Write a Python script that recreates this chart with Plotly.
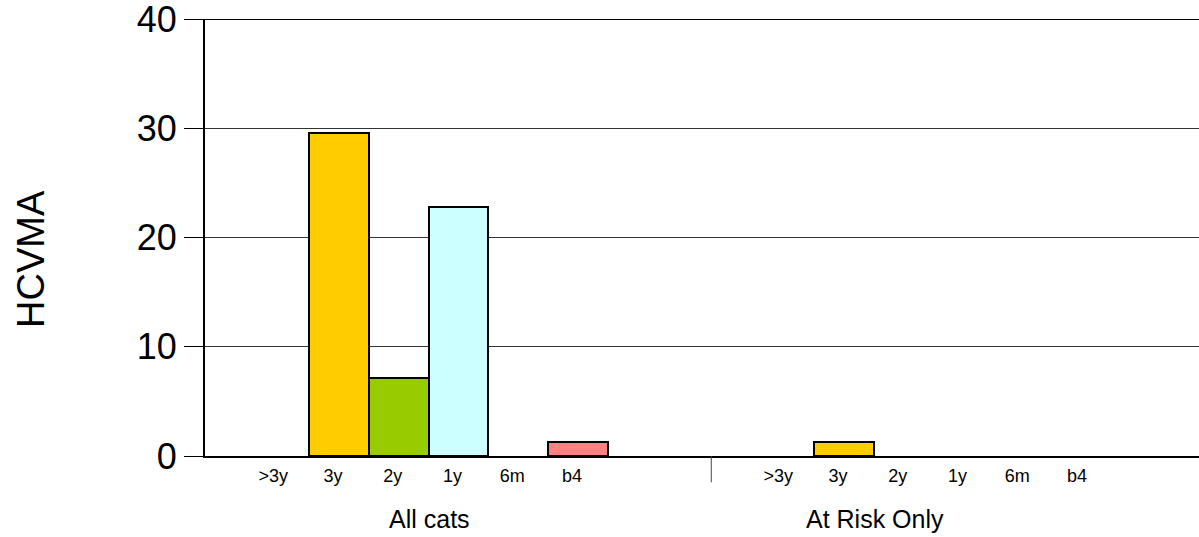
import plotly.graph_objects as go

# ---- data ----
categories = [">3y", "3y", "2y", "1y", "6m", "b4"]
groups = ["All cats", "At Risk Only"]
all_cats = [0, 29.6, 7.1, 22.8, 0, 1.3]
at_risk = [0, 1.3, 0, 0, 0, 0]
cat_colors = ["#FFFFFF", "#FFCC00", "#99CC00", "#CCFFFF", "#FFFFFF", "#FF8080"]
y_ticks = [0, 10, 20, 30, 40]
y_title = "HCVMA"

# ---- layout helpers ----
GROUP_SPAN = 8.45          # group width in slot units
series = [all_cats, at_risk]

fig = go.Figure()
xs, ys, cols, lws = [], [], [], []
for g, vals in enumerate(series):
    for i, v in enumerate(vals):
        xs.append(g * GROUP_SPAN + i)
        ys.append(v)
        cols.append(cat_colors[i])
        lws.append(2 if v > 0 else 0)

fig.add_trace(go.Bar(
    x=xs, y=ys, width=1.0,
    marker=dict(color=cols, line=dict(color="black", width=lws)),
    showlegend=False, hoverinfo="x+y",
))

tickvals, ticktext = [], []
for g in range(len(groups)):
    for i, c in enumerate(categories):
        tickvals.append(g * GROUP_SPAN + i - 0.1)
        ticktext.append(c)

FONT = "Arial, Liberation Sans, sans-serif"
x0 = -1.243
px_per_unit = 59.75
plot_w = 1199 - 205
x1 = x0 + plot_w / px_per_unit

fig.update_layout(
    width=1199, height=537, autosize=False,
    margin=dict(l=205, r=0, t=19, b=81, pad=0),
    paper_bgcolor="white", plot_bgcolor="white",
    font=dict(family=FONT, color="black"),
    bargap=0,
    xaxis=dict(
        range=[x0, x1], tickmode="array", tickvals=tickvals, ticktext=ticktext,
        tickfont=dict(size=18, family=FONT, color="black"),
        showgrid=False, zeroline=False, ticks="",
        showline=True, linecolor="black", linewidth=2,
        ticklabelstandoff=2,
    ),
    yaxis=dict(
        range=[0, 40.0001], tickmode="array", tickvals=y_ticks,
        tickfont=dict(size=36, family=FONT, color="black"),
        ticklabeloverflow="allow",
        showgrid=True, gridcolor="#333333", gridwidth=1,
        zeroline=False, ticks="outside", ticklen=19, tickcolor="black", tickwidth=1,
        showline=True, linecolor="black", linewidth=2,
    ),
    annotations=[
        dict(text=y_title, xref="paper", yref="paper", x=-0.175, y=0.451,
             textangle=-90, showarrow=False, xanchor="center", yanchor="middle",
             font=dict(size=38, family=FONT, color="black")),
        dict(text=groups[0], xref="x", yref="paper", x=2.52, y=-0.145,
             showarrow=False, xanchor="center", yanchor="middle",
             font=dict(size=25, family=FONT, color="black")),
        dict(text=groups[1], xref="x", yref="paper", x=9.97, y=-0.145,
             showarrow=False, xanchor="center", yanchor="middle",
             font=dict(size=25, family=FONT, color="black")),
    ],
    shapes=[
        dict(type="line", xref="paper", yref="y", x0=0, x1=1, y0=40, y1=40,
             line=dict(color="black", width=2)),
        dict(type="line", xref="x", yref="paper", x0=GROUP_SPAN - 1.22, x1=GROUP_SPAN - 1.22,
             y0=0, y1=-0.06, line=dict(color="#444444", width=1)),
    ],
)

fig.write_html("out.html", config={"displayModeBar": False},
               post_script="document.body.style.margin='0';")
